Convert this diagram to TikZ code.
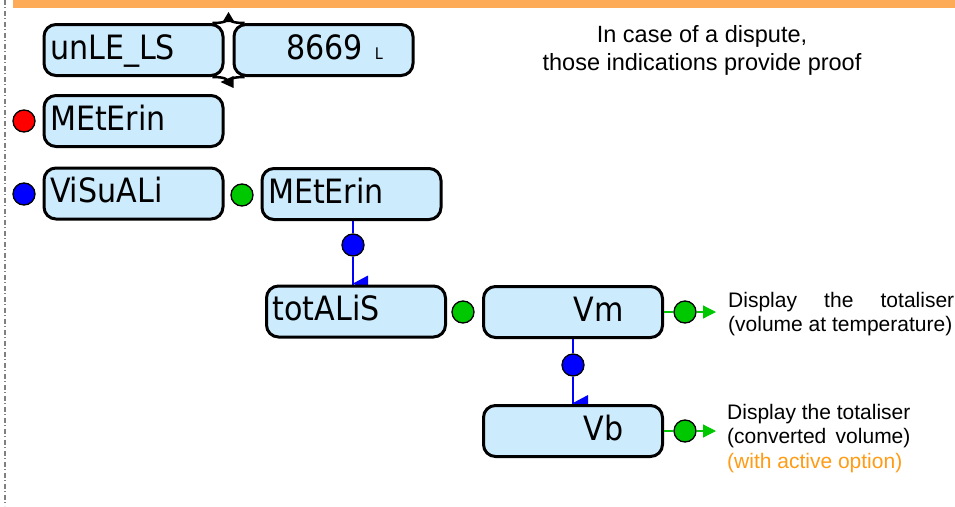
\documentclass[tikz,border=0pt]{standalone}
\usepackage{fontspec}
\setmainfont{Liberation Sans}
\newfontfamily\boxfont{DejaVu Sans}[FakeStretch=0.9]
\usetikzlibrary{arrows.meta,backgrounds,calc}
\definecolor{boxblue}{RGB}{204,235,253}
\definecolor{barorange}{RGB}{253,171,87}
\definecolor{optorange}{RGB}{255,155,20}
\definecolor{dotgreen}{RGB}{0,200,0}
\definecolor{dotblue}{RGB}{0,0,255}
\definecolor{dotred}{RGB}{255,0,0}
\newlength\dispw
\tikzset{
  box/.style={draw=black, line width=3pt, rounded corners=12pt, fill=boxblue,
    minimum height=51pt, text width=167pt, inner xsep=6pt, inner ysep=0pt,
    text height=24pt, text depth=6pt, font=\boxfont\fontsize{33.5}{33.5}\selectfont, align=left},
  rbox/.style={box, align=right},
  dot/.style={circle, draw=black, line width=1.3pt, minimum size=22pt, inner sep=0pt},
  bline/.style={draw=dotblue, line width=1.2pt},
  gline/.style={draw=dotgreen, line width=1.2pt},
  garrow/.style={gline, -{Triangle[length=13pt,width=13pt]}},
  btip/.style={fill=dotblue},
  ktip/.style={fill=black},
  cycline/.style={draw=black, line width=2.5pt},
  note/.style={inner sep=0pt, font=\fontsize{21}{24.5}\selectfont, align=justify},
  topnote/.style={inner sep=0pt, font=\fontsize{23.5}{28}\selectfont, align=center}
}
\begin{document}
\settowidth{\dispw}{\fontsize{21}{24.5}\selectfont Display the totaliser}%
\begin{tikzpicture}[x=1pt,y=-1pt]
\useasboundingbox (0,0) rectangle (955,506);
\fill[barorange] (13,0) rectangle (955,8);
\draw[gray, line width=2pt, dash pattern=on 5pt off 2pt on 1pt off 3pt] (5,0) -- (5,506);

% boxes
\node[box] (u) at (133.5,50) {unLE\_LS};
\node[rbox] (n) at (323.5,50) {8669\hspace{12pt}{\fontsize{16}{16}\selectfont L}\rule{24pt}{0pt}};
\node[box] (m1) at (133.5,121) {MEtErin};
\node[box] (vis) at (133.5,193.5) {ViSuALi};
\node[box] (m2) at (351.5,194) {MEtErin};
\node[box] (tot) at (356,311.5) {totALiS};
\node[rbox] (vm) at (573,312) {Vm\rule{33pt}{0pt}};
\node[rbox] (vb) at (573,431) {Vb\rule{33pt}{0pt}};

% dots
\node[dot, fill=dotred] (r1) at (24,121) {};
\node[dot, fill=dotblue] (b1) at (24,194) {};
\node[dot, fill=dotgreen] (g1) at (242,195) {};
\node[dot, fill=dotblue] (b2) at (353,245) {};
\node[dot, fill=dotgreen] (g2) at (463,312) {};
\node[dot, fill=dotblue] (b3) at (573,365) {};
\node[dot, fill=dotgreen] (g3) at (685,312) {};
\node[dot, fill=dotgreen] (g4) at (685,431) {};
\coordinate (t3) at (716,312);
\coordinate (t4) at (716,431);

% connectors
\begin{scope}[on background layer]
  \draw[bline] (m2.south -| b2) -- (b2);
  \draw[bline] (b2) -- (tot.north -| b2);
  \fill[btip] ($(tot.north -| b2)+(0,-1)$) -- ++(15,-8) -- ++(0,16) -- cycle;
  \draw[bline] (vm) -- (b3);
  \draw[bline] (b3) -- (vb);
  \fill[btip] ($(vb.north)+(0,-1)$) -- ++(15,-8) -- ++(0,16) -- cycle;
  \coordinate (topmid) at ($(u.north east)!.5!(n.north west)$);
  \coordinate (botmid) at ($(u.south east)!.5!(n.south west)$);
  \draw[cycline] ($(u.north east)+(-12,0)$) .. controls ($(topmid)+(-4,0)$) and ($(topmid)+(-1,-2)$) .. ($(topmid)+(0,-5)$)
     .. controls ($(topmid)+(1,-2)$) and ($(topmid)+(4,0)$) .. ($(n.north west)+(12,0)$);
  \draw[cycline] ($(u.south east)+(-12,0)$) .. controls ($(botmid)+(-4,0)$) and ($(botmid)+(-1,2)$) .. ($(botmid)+(0,5)$)
     .. controls ($(botmid)+(1,2)$) and ($(botmid)+(4,0)$) .. ($(n.south west)+(12,0)$);
\end{scope}
\fill[ktip] ($(topmid)+(0,-11)$) -- ($(topmid)+(-6,-1)$) -- ($(topmid)+(6,-1)$) -- cycle;
\fill[ktip] ($(botmid)+(-8,5)$) -- ($(botmid)+(5,-1)$) -- ($(botmid)+(5,11)$) -- cycle;

\draw[gline] (vm) -- (g3);
\draw[garrow] (g3) -- (t3);
\draw[gline] (vb) -- (g4);
\draw[garrow] (g4) -- (t4);

% texts
\node[topnote, anchor=base] (proof) at (702,70) {In case of a dispute,\\those indications provide proof};
\node[note, anchor=base west, text width=226pt] (d1) at (728,307) {Display the totaliser\linebreak (volume at temperature)};
\node[note, anchor=base west, text width=\dispw] (d2) at (727,419) {Display the totaliser\linebreak (converted volume)\linebreak \textcolor{optorange}{(with active option)}};
\end{tikzpicture}
\end{document}
